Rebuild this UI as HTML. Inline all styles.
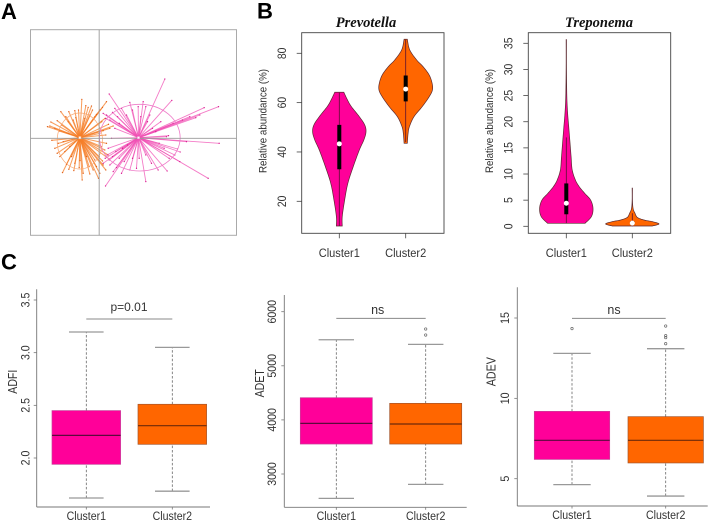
<!DOCTYPE html>
<html lang="en">
<head>
<meta charset="utf-8">
<title>Cluster comparison figure</title>
<style>
html,body{margin:0;padding:0;background:#fff;}
svg{display:block;font-family:"Liberation Sans",sans-serif;}
</style>
</head>
<body>
<svg id="figure" xmlns="http://www.w3.org/2000/svg" width="709" height="521" viewBox="0 0 709 521">
  <defs><filter id="soft" x="-5%" y="-5%" width="110%" height="110%"><feGaussianBlur stdDeviation="0.35"/></filter></defs>
  <text x="1" y="19" font-size="22" font-weight="bold" fill="#000">A</text>
  <text x="257" y="18.5" font-size="22" font-weight="bold" fill="#000">B</text>
  <text x="1" y="269.5" font-size="22" font-weight="bold" fill="#000">C</text>
  <text x="366" y="27" text-anchor="middle" font-family="'Liberation Serif',serif" font-style="italic" font-weight="bold" font-size="14.5" fill="#111">Prevotella</text>
  <text x="599" y="27" text-anchor="middle" font-family="'Liberation Serif',serif" font-style="italic" font-weight="bold" font-size="14.5" fill="#111">Treponema</text>
  <text x="129" y="311" text-anchor="middle" font-size="12" fill="#333">p=0.01</text>
  <text x="377.7" y="314" text-anchor="middle" font-size="12.5" fill="#333">ns</text>
  <text x="614" y="314" text-anchor="middle" font-size="12.5" fill="#333">ns</text>
</svg>
<script>
const categories = ['Cluster1', 'Cluster2'];
const clusterFill = ['#ff0099', '#ff6600'];

/* Panel A: ordination scores */
const orangeCentroid = [-58, 2];
const orangeScores = [[-52,117],[22,110],[-23,97],[-33,93],[-62,85],[-73,83],[-91,80],[-115,80],[2,85],[10,93],[-126,53],[-145,49],[-155,35],[-148,37],[-133,30],[-113,40],[-93,50],[-78,55],[-43,60],[-28,70],[-13,65],[42,37],[32,30],[12,23],[2,15],[20,10],[-142,-6],[-123,-15],[-108,-10],[-133,-30],[-118,-55],[-126,-45],[-103,-40],[-110,-103],[-91,-93],[-76,-97],[-73,-75],[-51,-125],[-48,-105],[-28,-107],[-30,-85],[-2,-120],[-18,-95],[2,-105],[20,-95],[12,-80],[27,-50],[17,-35],[0,-55],[7,-25],[22,-15],[-93,15],[-88,-25],[-38,-55],[-13,-65],[-58,-67],[-83,-55],[-20,85],[-8,72],[-40,98],[-70,62],[-100,65],[-120,22],[8,50],[18,60],[28,42],[-98,-78],[-60,-88],[-8,-85],[10,-68],[30,-62]];
const pinkCentroid = [118, 2];
const pinkScores = [[197,178],[218,114],[315,92],[358,95],[302,70],[272,65],[222,45],[360,-15],[262,-10],[327,-120],[242,-70],[243,-41],[227,-50],[204,-98],[140,-130],[157,-75],[177,-95],[112,-90],[92,-95],[67,-105],[19,-143],[42,-100],[32,-80],[12,-75],[24,-50],[27,-30],[37,0],[30,133],[47,90],[12,75],[22,70],[92,108],[132,110],[117,95],[152,70],[67,90],[82,70],[32,55],[47,30],[202,5],[208,8],[180,-15],[160,30],[185,50],[290,62],[250,55],[235,-32],[210,-60],[140,-50],[120,-60],[100,-60],[75,-70],[52,-88],[60,-60],[40,-55],[30,-65],[18,-60],[50,-40],[70,-30],[85,-20],[55,65],[40,78],[100,85],[125,65],[145,50],[60,45],[20,60],[140,95],[170,20],[195,-30]];
const orangeSpread = [-58, -8, 68, 84];
const pinkSpread = [122, 2, 121, 100];

/* Panel B: violins */
const prevotellaTicks = [20, 40, 60, 80];
const prevotellaLevels1 = [64.2, 61, 58.4, 54.3, 51, 48.2, 44.9, 40.8, 34, 27.3, 20.5, 13.8, 10];
const prevotellaDensity1 = [0.17, 0.31, 0.45, 0.75, 0.95, 1, 0.92, 0.75, 0.52, 0.32, 0.2, 0.11, 0.11];
const prevotellaLevels2 = [85.7, 81.4, 77.3, 74.6, 71.2, 67.8, 65.1, 62.4, 58.4, 54.3, 50.3, 47.6, 43.5];
const prevotellaDensity2 = [0.06, 0.15, 0.41, 0.65, 0.88, 0.99, 1, 0.88, 0.62, 0.31, 0.14, 0.09, 0.06];
const prevotellaQ1 = [33, 60.5];
const prevotellaMedian = [43.3, 65.5];
const prevotellaQ3 = [51, 71];
const prevotellaLow = [10, 44];
const prevotellaHigh = [64, 85.5];

const treponemaTicks = [0, 5, 10, 15, 20, 25, 30, 35];
const treponemaLevels1 = [0.57, 1.85, 3.44, 5.03, 6.3, 7.6, 8.86, 10.8, 13.3, 15.9, 19.1, 21.6, 24.8, 30.5, 35.7];
const treponemaDensity1 = [0.7, 0.94, 1, 0.91, 0.69, 0.48, 0.34, 0.22, 0.18, 0.14, 0.09, 0.05, 0.02, 0.006, 0.006];
const treponemaLevels2 = [0.06, 0.45, 0.89, 1.2, 1.7, 2.5, 3.4, 5, 7.3];
const treponemaDensity2 = [0.75, 1, 0.75, 0.44, 0.19, 0.1, 0.03, 0.006, 0.006];
const treponemaQ1 = [2.3, 0.3];
const treponemaMedian = [4.4, 0.6];
const treponemaQ3 = [8.2, 1];
const treponemaLow = [0.6, 0];
const treponemaHigh = [17, 2.5];

/* Panel C: box plots */
const adfiTicks = [2, 2.5, 3, 3.5];
const adfiTickLabels = ['2.0', '2.5', '3.0', '3.5'];
const adfiLow = [1.62, 1.685];
const adfiQ1 = [1.94, 2.13];
const adfiMedian = [2.215, 2.307];
const adfiQ3 = [2.45, 2.51];
const adfiHigh = [3.196, 3.05];
const adfiOutliers = [[], []];
const adfiBracket = 3.32;

const adetTicks = [3000, 4000, 5000, 6000];
const adetTickLabels = ['3000', '4000', '5000', '6000'];
const adetLow = [2549, 2808];
const adetQ1 = [3554, 3554];
const adetMedian = [3936, 3924];
const adetQ3 = [4410, 4306];
const adetHigh = [5482, 5396];
const adetOutliers = [[], [5569, 5680]];
const adetBracket = 5877;

const adevTicks = [5, 10, 15];
const adevTickLabels = ['5', '10', '15'];
const adevLow = [4.63, 3.92];
const adevQ1 = [6.2, 5.98];
const adevMedian = [7.39, 7.39];
const adevQ3 = [9.19, 8.86];
const adevHigh = [12.8, 13.09];
const adevOutliers = [[14.34], [14.5, 13.9, 13.78, 13.4]];
const adevBracket = 14.98;

const NS = 'http://www.w3.org/2000/svg';
const root = document.getElementById('figure');

function mk(tag, attrs, parent) {
  const el = document.createElementNS(NS, tag);
  for (const k in attrs) el.setAttribute(k, attrs[k]);
  (parent || root).appendChild(el);
  return el;
}
function linear(d0, d1, r0, r1) {
  return v => r0 + (v - d0) * (r1 - r0) / (d1 - d0);
}
function line(x1, y1, x2, y2, stroke, width, parent) {
  return mk('line', {x1, y1, x2, y2, stroke, 'stroke-width': width}, parent);
}
function squeeze(t, ratio) {
  if (ratio && ratio !== 1) {
    const len = t.getComputedTextLength();
    if (len > 0) {
      t.setAttribute('textLength', (len * ratio).toFixed(2));
      t.setAttribute('lengthAdjust', 'spacingAndGlyphs');
    }
  }
}
function yLabel(cx, cy, txt, size, parent, ratio) {
  const bx = cx + size * 0.36;
  const t = mk('text', {x: bx, y: cy, 'text-anchor': 'middle', 'font-size': size, fill: '#333', transform: 'rotate(-90 ' + bx + ' ' + cy + ')'}, parent);
  t.textContent = txt;
  squeeze(t, ratio);
  return t;
}
function xLabel(cx, cy, txt, size, parent, ratio) {
  const t = mk('text', {x: cx, y: cy + size * 0.36, 'text-anchor': 'middle', 'font-size': size, fill: '#333'}, parent);
  t.textContent = txt;
  squeeze(t, ratio);
  return t;
}

/* ---------- Panel A ---------- */
function drawOrdination() {
  const g = mk('g', {filter: 'url(#soft)'});
  
  
  const sx = linear(-206, 412, 30.5, 236.5);
  const sy = linear(-291, 326, 235.3, 29.7);
  const sw = v => v / 3;

  const frame = mk('rect', {x: 30.5, y: 29.7, width: 206, height: 205.6, fill: '#fff', stroke: '#aaa', 'stroke-width': 1}, g);
  
  

  function cloud(scores, centroid, stroke, dot, name, w) {
    const cg = mk('g', {}, g);
    
    
    scores.forEach(p => {
      const spoke = line(sx(centroid[0]), sy(centroid[1]), sx(p[0]), sy(p[1]), stroke, w, cg);
      
      
      spoke.setAttribute('stroke-opacity', '0.75');
      const pt = mk('circle', {cx: sx(p[0]), cy: sy(p[1]), r: 0.65, fill: dot}, cg);
      
      
    });
  }
  cloud(orangeScores, orangeCentroid, '#f57f2a', '#e0601a', 'orange-cluster', 1.05);
  cloud(pinkScores, pinkCentroid, '#f050b4', '#d81a90', 'pink-cluster', 0.9);

  const e1 = mk('ellipse', {cx: sx(orangeSpread[0]), cy: sy(orangeSpread[1]), rx: sw(orangeSpread[2]), ry: sw(orangeSpread[3]), fill: 'none', stroke: '#f8a772', 'stroke-width': 0.7}, g);
  
  
  const e2 = mk('ellipse', {cx: sx(pinkSpread[0]), cy: sy(pinkSpread[1]), rx: sw(pinkSpread[2]), ry: sw(pinkSpread[3]), fill: 'none', stroke: '#ee7cc8', 'stroke-width': 0.8}, g);
  
  

  const h = line(30.5, sy(0), 236.5, sy(0), '#999', 0.9, g);
  
  
  const v = line(sx(0), 29.7, sx(0), 235.3, '#999', 0.9, g);
  
  

  const c1 = mk('rect', {x: sx(orangeCentroid[0]) - 1.2, y: sy(orangeCentroid[1]) - 1.2, width: 2.4, height: 2.4, fill: '#fff', stroke: '#f8a772', 'stroke-width': 0.5}, g);
  
  
  const c2 = mk('rect', {x: sx(pinkCentroid[0]) - 1.2, y: sy(pinkCentroid[1]) - 1.2, width: 2.4, height: 2.4, fill: '#fff', stroke: '#ee7cc8', 'stroke-width': 0.5}, g);
  
  
}

/* ---------- Panel B ---------- */
function smoothSide(levels, density, y, half) {
  const pts = levels.map((v, i) => [half(density[i]), y(v)]);
  const out = [];
  for (let i = 0; i < pts.length - 1; i++) {
    const p0 = pts[Math.max(i - 1, 0)], p1 = pts[i], p2 = pts[i + 1], p3 = pts[Math.min(i + 2, pts.length - 1)];
    for (let s = 0; s < 8; s++) {
      const t = s / 8, t2 = t * t, t3 = t2 * t;
      const f = k => 0.5 * (2 * p1[k] + (p2[k] - p0[k]) * t + (2 * p0[k] - 5 * p1[k] + 4 * p2[k] - p3[k]) * t2 + (3 * p1[k] - p0[k] - 3 * p2[k] + p3[k]) * t3);
      out.push([Math.max(f(0), 0.1), f(1)]);
    }
  }
  out.push(pts[pts.length - 1]);
  return out;
}
function drawViolinPanel(o) {
  const g = mk('g', {});
  
  
  const y = linear(o.d0, o.d1, o.r0, o.r1);
  const half = d => d * 26.7;

  o.ticks.forEach(t => {
    const tk = line(o.left - 5, y(t), o.left, y(t), '#444', 0.8, g);
    
    
    const lb = yLabel(o.left - 20, y(t), String(t), 12.2, g, 0.85);
    
    
  });
  const yt = yLabel(o.left - 39, 121, 'Relative abundance (%)', 10.6, g, 0.92);
  
  

  categories.forEach((c, i) => {
    const cx = o.centers[i];
    const side = smoothSide(o.levels[i], o.density[i], y, half);
    const right = side.map(p => (cx + p[0]) + ',' + p[1]);
    const left = side.slice().reverse().map(p => (cx - p[0]) + ',' + p[1]);
    const body = mk('polygon', {points: right.concat(left).join(' '), fill: clusterFill[i], stroke: '#5c2a30', 'stroke-width': 0.7}, g);
    
    

    const w = line(cx, y(o.low[i]), cx, y(o.high[i]), '#5a1030', 0.8, g);
    
    
    const q = line(cx, y(o.q1[i]), cx, y(o.q3[i]), '#000', 4, g);
    
    
    const m = mk('circle', {cx, cy: y(o.median[i]), r: 2.5, fill: '#fff'}, g);
    
    

    const tk = line(cx, o.bottom, cx, o.bottom + 5, '#444', 0.8, g);
    
    
    const lb = xLabel(cx, 253, c, 11.5, g, 0.96);
    
    
  });

  const frame = mk('rect', {x: o.left, y: o.top, width: o.right - o.left, height: o.bottom - o.top, fill: 'none', stroke: '#444', 'stroke-width': 0.9}, g);
  
  
}

/* ---------- Panel C ---------- */
function drawBoxPanel(o) {
  const g = mk('g', {});
  
  
  const y = linear(o.d0, o.d1, o.r0, o.r1);

  const ya = line(o.left, o.top, o.left, o.bottom, '#777', 0.9, g);
  
  
  const xa = line(o.left, o.bottom, o.right, o.bottom, '#777', 0.9, g);
  
  

  o.ticks.forEach((t, i) => {
    const tk = line(o.left - 3, y(t), o.left, y(t), '#777', 0.8, g);
    
    
    const lb = yLabel(o.tickX, y(t), o.labels[i], o.tickSize, g, o.tickRatio);
    
    
  });
  const yt = yLabel(o.titleX, o.titleY, o.title, 13, g, o.titleRatio);
  
  

  categories.forEach((c, i) => {
    const cx = o.centers[i];
    const key = c.toLowerCase();
    const w1 = line(cx, y(o.low[i]), cx, y(o.q1[i]), '#666', 0.8, g);
    w1.setAttribute('stroke-dasharray', '2.5 1.8');
    
    
    const w2 = line(cx, y(o.q3[i]), cx, y(o.high[i]), '#666', 0.8, g);
    w2.setAttribute('stroke-dasharray', '2.5 1.8');
    
    
    const c1 = line(cx - o.capHalf, y(o.low[i]), cx + o.capHalf, y(o.low[i]), '#999', 1.3, g);
    
    
    const c2 = line(cx - o.capHalf, y(o.high[i]), cx + o.capHalf, y(o.high[i]), '#999', 1.3, g);
    
    

    const box = mk('rect', {x: cx - o.boxHalf, y: y(o.q3[i]), width: 2 * o.boxHalf, height: y(o.q1[i]) - y(o.q3[i]), fill: clusterFill[i], stroke: i === 0 ? '#c8409a' : '#a5552a', 'stroke-width': 0.7}, g);
    
    
    const med = line(cx - o.boxHalf, y(o.median[i]), cx + o.boxHalf, y(o.median[i]), i === 0 ? '#5a0a3c' : '#6e2a0a', 1.2, g);
    
    

    o.outliers[i].forEach(v => {
      const pt = mk('circle', {cx, cy: y(v), r: 1.2, fill: 'none', stroke: '#666', 'stroke-width': 0.7}, g);
      
      
    });

    const tk = line(cx, o.bottom, cx, o.bottom + 2.5, '#777', 0.8, g);
    
    
    const lb = xLabel(cx, o.catY, c, 11.5, g, 0.92);
    
    
  });

  const br = line(o.centers[0], y(o.bracket), o.centers[1], y(o.bracket), '#888', 1, g);
  
  
}

drawOrdination();

drawViolinPanel({
  name: 'prevotella', left: 301.7, right: 444, top: 32.7, bottom: 233.3,
  d0: 20, d1: 80, r0: 201.3, r1: 53.3, centers: [339.3, 405.7], ticks: prevotellaTicks,
  levels: [prevotellaLevels1, prevotellaLevels2], density: [prevotellaDensity1, prevotellaDensity2],
  q1: prevotellaQ1, median: prevotellaMedian, q3: prevotellaQ3, low: prevotellaLow, high: prevotellaHigh
});
drawViolinPanel({
  name: 'treponema', left: 528.3, right: 670.7, top: 32.7, bottom: 233.3,
  d0: 0, d1: 35, r0: 226.3, r1: 43.3, centers: [566.3, 632.3], ticks: treponemaTicks,
  levels: [treponemaLevels1, treponemaLevels2], density: [treponemaDensity1, treponemaDensity2],
  q1: treponemaQ1, median: treponemaMedian, q3: treponemaQ3, low: treponemaLow, high: treponemaHigh
});

drawBoxPanel({
  name: 'adfi', title: 'ADFI', left: 36.7, right: 210, top: 289.3, bottom: 507,
  d0: 2, d1: 3.5, r0: 458, r1: 300, centers: [86.3, 172.3], boxHalf: 34.3, capHalf: 17.3,
  tickX: 25, titleX: 12.3, titleY: 381.7, catY: 515.7, tickSize: 12.4, tickRatio: 0.85, titleRatio: 0.81,
  ticks: adfiTicks, labels: adfiTickLabels, low: adfiLow, q1: adfiQ1, median: adfiMedian, q3: adfiQ3, high: adfiHigh, outliers: adfiOutliers, bracket: adfiBracket
});
drawBoxPanel({
  name: 'adet', title: 'ADET', left: 284.3, right: 466.7, top: 295, bottom: 507.3,
  d0: 3000, d1: 6000, r0: 474, r1: 311.7, centers: [336.3, 425.7], boxHalf: 36, capHalf: 17.7,
  tickX: 272, titleX: 259.3, titleY: 383.3, catY: 516, tickSize: 11.5, tickRatio: 0.92, titleRatio: 0.81,
  ticks: adetTicks, labels: adetTickLabels, low: adetLow, q1: adetQ1, median: adetMedian, q3: adetQ3, high: adetHigh, outliers: adetOutliers, bracket: adetBracket
});
drawBoxPanel({
  name: 'adev', title: 'ADEV', left: 517.3, right: 707.7, top: 287.3, bottom: 506,
  d0: 5, d1: 15, r0: 478.7, r1: 318, centers: [572, 665.7], boxHalf: 37.7, capHalf: 18.7,
  tickX: 505, titleX: 491, titleY: 371.7, catY: 515, tickSize: 11.8, tickRatio: 0.9, titleRatio: 0.82,
  ticks: adevTicks, labels: adevTickLabels, low: adevLow, q1: adevQ1, median: adevMedian, q3: adevQ3, high: adevHigh, outliers: adevOutliers, bracket: adevBracket
});
</script>
</body>
</html>
